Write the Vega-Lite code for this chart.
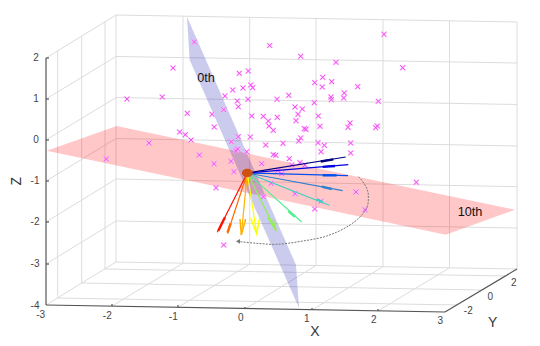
{"$schema":"https://vega.github.io/schema/vega-lite/v6.json","width":540,"height":346,"autosize":{"type":"fit","contains":"padding"},"padding":0,"background":"white","view":{"stroke":null},
"datasets":{
"grid":[
{"id":"bv0","x":116,"y":15},{"id":"bv0","x":116,"y":262},{"id":"bv1","x":183,"y":16.2},{"id":"bv1","x":183,"y":263.2},{"id":"bv2","x":249.7,"y":17.3},{"id":"bv2","x":249.7,"y":264.3},{"id":"bv3","x":316,"y":18.5},{"id":"bv3","x":316,"y":265.5},{"id":"bv4","x":383,"y":19.7},{"id":"bv4","x":383,"y":266.7},{"id":"bv5","x":449.5,"y":20.8},{"id":"bv5","x":449.5,"y":267.8},{"id":"bv6","x":517,"y":22},{"id":"bv6","x":517,"y":269},
{"id":"bh0","x":116,"y":15},{"id":"bh0","x":517,"y":22},{"id":"bh1","x":116,"y":56.5},{"id":"bh1","x":517,"y":63},{"id":"bh2","x":116,"y":97.5},{"id":"bh2","x":517,"y":104.5},{"id":"bh3","x":116,"y":138.5},{"id":"bh3","x":517,"y":146},{"id":"bh4","x":116,"y":179},{"id":"bh4","x":517,"y":186.7},{"id":"bh5","x":116,"y":221},{"id":"bh5","x":517,"y":228},{"id":"bh6","x":116,"y":262},{"id":"bh6","x":517,"y":269},
{"id":"lv0","x":57.7,"y":50.8},{"id":"lv0","x":57.7,"y":298},{"id":"lv1","x":81.7,"y":36},{"id":"lv1","x":81.7,"y":283},{"id":"lv2","x":105,"y":21.8},{"id":"lv2","x":105,"y":269},
{"id":"lh0","x":46,"y":58},{"id":"lh0","x":116,"y":15},{"id":"lh1","x":46,"y":99},{"id":"lh1","x":116,"y":56.5},{"id":"lh2","x":46,"y":140},{"id":"lh2","x":116,"y":97.5},{"id":"lh3","x":46,"y":181},{"id":"lh3","x":116,"y":138.5},{"id":"lh4","x":46,"y":222},{"id":"lh4","x":116,"y":179},{"id":"lh5","x":46,"y":264},{"id":"lh5","x":116,"y":221},{"id":"lh6","x":46,"y":305},{"id":"lh6","x":116,"y":262},
{"id":"fx1","x":112,"y":306},{"id":"fx1","x":183,"y":263.2},{"id":"fx2","x":178,"y":307.3},{"id":"fx2","x":249.7,"y":264.3},{"id":"fx3","x":245,"y":309},{"id":"fx3","x":316,"y":265.5},{"id":"fx4","x":312,"y":310},{"id":"fx4","x":383,"y":266.7},{"id":"fx5","x":378,"y":311},{"id":"fx5","x":449.5,"y":267.8},
{"id":"fy0","x":57.7,"y":298},{"id":"fy0","x":457,"y":305},{"id":"fy1","x":81.7,"y":283},{"id":"fy1","x":481,"y":290},{"id":"fy2","x":105,"y":269},{"id":"fy2","x":505,"y":276}
],
"axes":[
{"id":"z","x":46,"y":58},{"id":"z","x":46,"y":305},{"id":"x","x":46,"y":305},{"id":"x","x":445,"y":312},{"id":"y","x":445,"y":312},{"id":"y","x":517,"y":269},
{"id":"zt2","x":46,"y":58},{"id":"zt2","x":49,"y":58},{"id":"zt1","x":46,"y":99},{"id":"zt1","x":49,"y":99},{"id":"zt0","x":46,"y":140},{"id":"zt0","x":49,"y":140},{"id":"zt-1","x":46,"y":181},{"id":"zt-1","x":49,"y":181},{"id":"zt-2","x":46,"y":222},{"id":"zt-2","x":49,"y":222},{"id":"zt-3","x":46,"y":264},{"id":"zt-3","x":49,"y":264},
{"id":"xt1","x":112,"y":306},{"id":"xt1","x":112,"y":304},{"id":"xt2","x":178,"y":307.3},{"id":"xt2","x":178,"y":305},{"id":"xt3","x":245,"y":309},{"id":"xt3","x":245,"y":307},{"id":"xt4","x":312,"y":310},{"id":"xt4","x":312,"y":308},{"id":"xt5","x":378,"y":311},{"id":"xt5","x":378,"y":309}
],
"pink":[{"x":46.7,"y":150.7,"y2":150.7},{"x":116.7,"y":126,"y2":165.4},{"x":445.7,"y":195.2,"y2":234.7},{"x":515,"y":209.7,"y2":209.7}],
"blue":[{"x":187,"y":17,"y2":17},{"x":189.7,"y":23.1,"y2":60},{"x":296,"y":265,"y2":301.2},{"x":299,"y":308,"y2":308}],
"crosses":[
{"x":194.3,"y":42},{"x":173,"y":68},{"x":127,"y":99},{"x":162.3,"y":97},{"x":239.3,"y":73.3},{"x":248.3,"y":71},{"x":250.7,"y":85},{"x":243,"y":88},{"x":252.7,"y":87.7},{"x":232.7,"y":90},{"x":225,"y":96},{"x":248,"y":99.3},{"x":237.3,"y":101},{"x":238.3,"y":106.7},{"x":223.7,"y":109.7},{"x":187.3,"y":113.3},{"x":212,"y":114.3},{"x":214.3,"y":127},{"x":179.7,"y":132},{"x":185.3,"y":134.7},{"x":191,"y":140},{"x":149,"y":143},{"x":238.3,"y":136.7},{"x":250.3,"y":137},{"x":231.3,"y":141.7},{"x":237.7,"y":149},{"x":236,"y":150.7},{"x":246.7,"y":151.7},{"x":199.3,"y":155},{"x":106.3,"y":159},{"x":214,"y":163.7},{"x":231,"y":161.3},{"x":261.7,"y":163.7},{"x":234,"y":171.7},{"x":251.7,"y":116},{"x":263.3,"y":116.3},{"x":268.3,"y":121},{"x":269,"y":126},{"x":265.7,"y":145},{"x":269.7,"y":45.5},
{"x":384,"y":34.3},{"x":300.7,"y":56.3},{"x":336,"y":62.3},{"x":402.7,"y":67.7},{"x":322.7,"y":77.3},{"x":314.7,"y":82.7},{"x":331.7,"y":81.7},{"x":322.3,"y":87},{"x":357.7,"y":86.7},{"x":344.3,"y":93},{"x":343.7,"y":98},{"x":331,"y":97},{"x":331.3,"y":99.7},{"x":288.7,"y":95.3},{"x":277,"y":99.3},{"x":314.3,"y":102.7},{"x":378.3,"y":101.3},{"x":295,"y":107},{"x":302.3,"y":109},{"x":298,"y":114.3},{"x":318.3,"y":116},{"x":277.3,"y":117.3},{"x":296,"y":120.7},{"x":273.3,"y":130.3},{"x":304.3,"y":128.7},{"x":306,"y":129.3},{"x":320,"y":126.3},{"x":350,"y":123},{"x":348,"y":127.3},{"x":377.3,"y":126},{"x":375.7,"y":127.7},{"x":300.7,"y":138},{"x":298.7,"y":141},{"x":283,"y":143.3},{"x":318,"y":142.7},{"x":324.3,"y":145.3},{"x":350.7,"y":143},{"x":321,"y":151.7},{"x":350.7,"y":153},{"x":273.3,"y":154.7},{"x":275.7,"y":155.3},{"x":289.3,"y":158.7},{"x":300,"y":162.7},{"x":291.7,"y":165},{"x":305,"y":165},{"x":277.7,"y":170.7},{"x":281.7,"y":173.7},{"x":216,"y":187.7},{"x":271,"y":183.3},{"x":263.3,"y":196.7},{"x":295,"y":193.7},{"x":321,"y":201.3},{"x":314.7,"y":209},{"x":356,"y":192},{"x":365,"y":209.7},{"x":223.7,"y":245},{"x":416.3,"y":182.3}
],
"rays":[
{"s":"r00","x":247.3,"y":173},{"s":"r00","x":217.3,"y":232.3},{"s":"r01","x":247.3,"y":173},{"s":"r01","x":227.5,"y":233.5},{"s":"r02","x":247.3,"y":173},{"s":"r02","x":241.3,"y":235},{"s":"r03","x":247.3,"y":173},{"s":"r03","x":256.7,"y":234},{"s":"r04","x":247.3,"y":173},{"s":"r04","x":276,"y":230.7},{"s":"r05","x":247.3,"y":173},{"s":"r05","x":301.7,"y":222},{"s":"r06","x":247.3,"y":173},{"s":"r06","x":329.3,"y":205.3},{"s":"r07","x":247.3,"y":173},{"s":"r07","x":342.7,"y":190.7},{"s":"r08","x":247.3,"y":173},{"s":"r08","x":348,"y":175.7},{"s":"r09","x":247.3,"y":173},{"s":"r09","x":348.3,"y":164.7},{"s":"r10","x":247.3,"y":173},{"s":"r10","x":345.7,"y":157}
],
"heads":[
{"s":"r00","x":225,"y":217.3},{"s":"r00","x":218.3,"y":230.7},{"s":"r01","x":230.7,"y":223.3},{"s":"r01","x":227.5,"y":232.7},{"s":"r05","x":288.3,"y":211},{"s":"r05","x":295,"y":216.8},{"s":"r06","x":316.7,"y":199.3},{"s":"r06","x":322.7,"y":202.3},{"s":"r07","x":321.7,"y":186.7},{"s":"r07","x":331.7,"y":189},{"s":"r08","x":322.7,"y":175.2},{"s":"r08","x":336.7,"y":175.4},{"s":"r09","x":322.7,"y":166.9},{"s":"r09","x":335,"y":166},{"s":"r10","x":320.7,"y":161.5},{"s":"r10","x":333.3,"y":159.4}
],
"barbs":[
{"s":"r02","i":1,"x":240,"y":219},{"s":"r02","i":2,"x":241.3,"y":235},{"s":"r02","i":3,"x":245.7,"y":219},
{"s":"r03","i":1,"x":250.7,"y":218.3},{"s":"r03","i":2,"x":256.7,"y":234},{"s":"r03","i":3,"x":259.3,"y":219},
{"s":"r04","i":1,"x":267.7,"y":217.3},{"s":"r04","i":2,"x":276,"y":230.7},{"s":"r04","i":3,"x":273,"y":219.3}
],
"arc":[
{"i":1,"x":358.5,"y":176.5},{"i":2,"x":365,"y":185},{"i":3,"x":368.3,"y":195},{"i":4,"x":365.7,"y":210},{"i":5,"x":350,"y":225},{"i":6,"x":326.7,"y":236},{"i":7,"x":300,"y":241.5},{"i":8,"x":276.7,"y":244.3},{"i":9,"x":256.7,"y":243.3},{"i":10,"x":240,"y":241.7}
],
"arcHead":[{"x":238,"y":241.3}],
"ball":[{"x":247.3,"y":173}],
"ticks":[
{"t":"2","x":36,"y":58},{"t":"1","x":36,"y":99},{"t":"0","x":36,"y":140},{"t":"-1","x":35,"y":181.3},{"t":"-2","x":35,"y":222},{"t":"-3","x":35,"y":264},{"t":"-4","x":35,"y":305.7},
{"t":"-3","x":40.7,"y":314.7},{"t":"-2","x":107.3,"y":315.7},{"t":"-1","x":173.3,"y":317},{"t":"0","x":240.7,"y":318},{"t":"1","x":306.7,"y":319},{"t":"2","x":373.7,"y":320.3},{"t":"3","x":440.3,"y":321.3},
{"t":"2","x":513.7,"y":283},{"t":"0","x":490.3,"y":297.3},{"t":"-2","x":468.3,"y":311.3}
],
"titles":[{"t":"X","x":315,"y":331.7},{"t":"Y","x":492.7,"y":323}],
"ztitle":[{"t":"Z","x":17.3,"y":181.3}],
"notes":[{"t":"0th","x":206,"y":78.3},{"t":"10th","x":470,"y":212.3}]
},
"encoding":{
"x":{"field":"x","type":"quantitative","axis":null,"scale":{"domain":[0,540],"nice":false,"zero":false}},
"y":{"field":"y","type":"quantitative","axis":null,"scale":{"domain":[346,0],"nice":false,"zero":false}}
},
"layer":[
{"data":{"name":"grid"},"mark":{"type":"line","stroke":"#dcdcdc","strokeWidth":1},"encoding":{"detail":{"field":"id"}}},
{"data":{"name":"pink"},"mark":{"type":"area","color":"#ff0000","opacity":0.22},"encoding":{"y2":{"field":"y2"}}},
{"data":{"name":"blue"},"mark":{"type":"area","color":"#1010b0","opacity":0.22},"encoding":{"y2":{"field":"y2"}}},
{"data":{"name":"axes"},"mark":{"type":"line","stroke":"#555555","strokeWidth":1.2},"encoding":{"detail":{"field":"id"}}},
{"data":{"name":"crosses"},"mark":{"type":"point","shape":"M-1,-1L1,1M-1,1L1,-1","size":26,"filled":false,"stroke":"#ffb0ff","strokeWidth":1.6,"opacity":1}},
{"data":{"name":"crosses"},"mark":{"type":"point","shape":"M-1,-1L1,1M-1,1L1,-1","size":22,"filled":false,"stroke":"#ee44ee","strokeWidth":0.8,"opacity":1}},
{"data":{"name":"arc"},"mark":{"type":"line","stroke":"#777777","strokeWidth":1,"strokeDash":[2,1.2],"interpolate":"cardinal"},"encoding":{"order":{"field":"i"}}},
{"data":{"name":"arcHead"},"mark":{"type":"point","shape":"triangle-left","size":22,"filled":true,"color":"#777777","opacity":1}},
{"data":{"name":"rays"},"mark":{"type":"line","strokeWidth":1.2},"encoding":{"color":{"field":"s","type":"nominal","legend":null,"scale":{"domain":["r00","r01","r02","r03","r04","r05","r06","r07","r08","r09","r10"],"range":["#ff1000","#ff6a00","#ffb000","#ffff00","#90f050","#50f090","#40d0c0","#3080d0","#0050f0","#0000e0","#000080"]}}}},
{"data":{"name":"heads"},"mark":{"type":"line","strokeWidth":2.4},"encoding":{"color":{"field":"s","type":"nominal","legend":null}}},
{"data":{"name":"barbs"},"mark":{"type":"line","strokeWidth":1.5},"encoding":{"color":{"field":"s","type":"nominal","legend":null},"order":{"field":"i"}}},
{"data":{"name":"ball"},"mark":{"type":"point","shape":"M-1,0A1,0.78 0 1 1 1,0A1,0.78 0 1 1 -1,0Z","size":115,"filled":true,"color":"#d2500f","opacity":1}},
{"data":{"name":"ticks"},"mark":{"type":"text","font":"Liberation Sans","fontSize":10,"color":"#444444","align":"center","baseline":"middle"},"encoding":{"text":{"field":"t"}}},
{"data":{"name":"titles"},"mark":{"type":"text","font":"Liberation Sans","fontSize":14,"color":"#333333","align":"center","baseline":"middle"},"encoding":{"text":{"field":"t"}}},
{"data":{"name":"ztitle"},"mark":{"type":"text","font":"Liberation Sans","fontSize":14,"color":"#333333","align":"center","baseline":"middle","angle":270},"encoding":{"text":{"field":"t"}}},
{"data":{"name":"notes"},"mark":{"type":"text","font":"Liberation Sans","fontSize":12.7,"color":"#111111","align":"center","baseline":"middle"},"encoding":{"text":{"field":"t"}}}
],
"resolve":{"scale":{"color":"shared"}}
}
